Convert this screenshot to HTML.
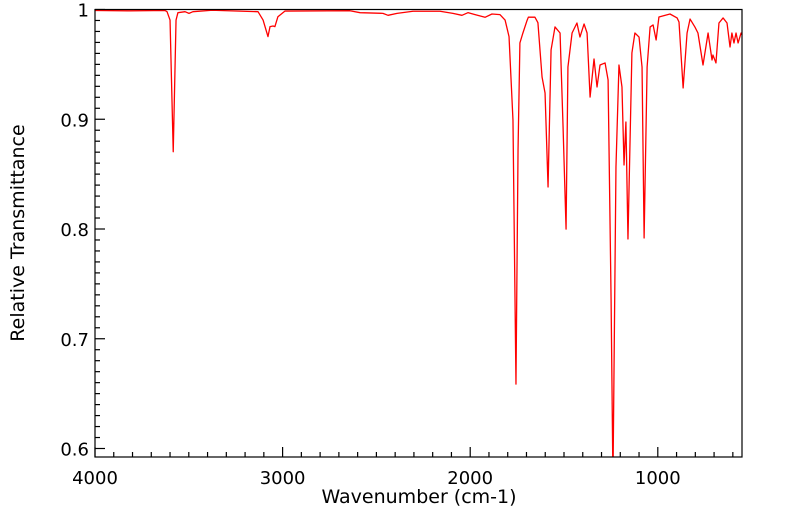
<!DOCTYPE html>
<html><head><meta charset="utf-8"><style>
html,body{margin:0;padding:0;background:#fff;}
svg{display:block;font-family:"DejaVu Sans","Liberation Sans",sans-serif;}
</style></head><body>
<svg id="chart" width="799" height="516" viewBox="0 0 799 516">
<defs><clipPath id="plotclip"><rect x="95" y="9.5" width="647" height="447.5"/></clipPath></defs>
<g id="axes"></g>
<g clip-path="url(#plotclip)"><polyline id="spectrum" fill="none" stroke="#ff0000" stroke-width="1.3" stroke-linejoin="round"/></g>
<rect x="95" y="9.5" width="647" height="447.5" fill="none" stroke="#000" stroke-width="1.2"/>
<text x="419" y="503" text-anchor="middle" font-size="19">Wavenumber (cm-1)</text>
<text transform="translate(24,233) rotate(-90)" text-anchor="middle" font-size="19">Relative Transmittance</text>
</svg>
<script>
const wavenumbers=[4000,3813,3627,3616,3600,3583,3568,3558,3520,3499,3478,3376,3131,3104,3078,3067,3051,3041,3025,2987,2641,2587,2465,2438,2390,2305,2161,2092,2044,2012,1974,1921,1884,1841,1814,1793,1772,1756,1745,1735,1719,1697,1690,1655,1639,1617,1601,1585,1569,1548,1521,1505,1489,1479,1457,1431,1415,1393,1377,1361,1340,1324,1308,1281,1265,1249,1239,1223,1207,1191,1180,1170,1159,1138,1122,1100,1084,1073,1057,1041,1025,1009,994,935,897,887,865,844,828,802,786,759,732,711,706,690,674,652,631,615,605,594,583,572,556,551];
const transmittance=[0.9991,0.9988,0.9991,0.998,0.9904,0.8704,0.9904,0.9971,0.998,0.9965,0.998,0.9993,0.998,0.9904,0.9753,0.9844,0.985,0.9844,0.9934,0.9986,0.9989,0.9971,0.9965,0.9947,0.9965,0.9984,0.9984,0.9965,0.9947,0.9971,0.9953,0.9929,0.9959,0.9953,0.9904,0.9753,0.8993,0.6587,0.872,0.9695,0.9786,0.9900,0.9930,0.9930,0.9880,0.9385,0.9239,0.8383,0.9631,0.9841,0.9786,0.8929,0.7999,0.9476,0.9786,0.9877,0.9749,0.9868,0.9786,0.9202,0.9549,0.9294,0.9494,0.9513,0.9358,0.7353,0.571,0.8565,0.9494,0.9294,0.8583,0.8975,0.7909,0.9604,0.9786,0.9749,0.9476,0.7918,0.9476,0.9841,0.9859,0.9722,0.9932,0.9959,0.9923,0.9886,0.9285,0.9786,0.9913,0.984,0.9786,0.9494,0.9786,0.954,0.9585,0.9513,0.9877,0.9923,0.9877,0.9658,0.9786,0.9695,0.9786,0.9695,0.9786,0.9768];
const xTickLabels=["4000","3000","2000","1000"];
const yTickLabels=["0.6","0.7","0.8","0.9","1"];
const NS="http://www.w3.org/2000/svg";
function xScale(w){return 95+(4000-w)*0.1876;}
function yScale(t){return 9.5+(1-t)*1097.5;}
document.getElementById('spectrum').setAttribute('points',wavenumbers.map((w,i)=>xScale(w).toFixed(2)+','+yScale(transmittance[i]).toFixed(2)).join(' '));
const axes=document.getElementById('axes');
function mk(tag,attrs){const e=document.createElementNS(NS,tag);for(const k in attrs)e.setAttribute(k,attrs[k]);axes.appendChild(e);return e;}
for(let w=4000;w>=600;w-=100){
  const x=xScale(w);const major=(w%1000===0);
  const l=mk('line',{x1:x,x2:x,y1:457,y2:457-(major?10:5),stroke:'#000','stroke-width':1.2});
  
  
}
xTickLabels.forEach(s=>{
  const t=mk('text',{x:xScale(+s),y:484,'text-anchor':'middle','font-size':18});
  t.textContent=s;
  
  
});
for(let i=60;i<=100;i++){
  const y=yScale(i/100);const major=(i%10===0);
  const l=mk('line',{x1:95,x2:95+(major?10:5),y1:y,y2:y,stroke:'#000','stroke-width':1.2});
  
  
}
yTickLabels.forEach(s=>{
  const t=mk('text',{x:89,y:yScale(+s)+7,'text-anchor':'end','font-size':18});
  t.textContent=s;
  
  
});
</script>
</body></html>
